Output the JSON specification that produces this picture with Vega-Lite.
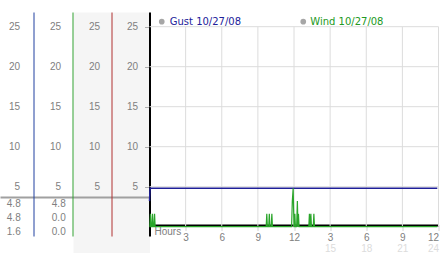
{
  "$schema": "https://vega.github.io/schema/vega-lite/v6.json",
  "width": 289,
  "height": 224,
  "autosize": {"type": "none"},
  "padding": {"left": 149.5, "top": 12, "right": 3.5, "bottom": 17},
  "background": "white",
  "config": {
    "view": {"stroke": null},
    "axis": {"labelFont": "Liberation Sans", "labelFontSize": 10, "labelColor": "#808080", "grid": false, "title": null, "labelFlush": false, "labelOverlap": false}
  },
  "datasets": {
    "vgrid": [{"h": 3}, {"h": 6}, {"h": 9}, {"h": 12}, {"h": 15}, {"h": 18}, {"h": 21}, {"h": 24}],
    "hgrid": [{"v": 5}, {"v": 10}, {"v": 15}, {"v": 20}, {"v": 25}],
    "gust": [{"t": 0, "v": 3.2}, {"t": 0.05, "v": 4.8}, {"t": 12, "v": 4.8}, {"t": 23.9, "v": 4.8}],
    "wind": [
      {"t": 0, "v": 0},
      {"t": 0.03, "v": 0}, {"t": 0.08, "v": 1.6}, {"t": 0.13, "v": 0},
      {"t": 0.2, "v": 0}, {"t": 0.25, "v": 1.6}, {"t": 0.3, "v": 0},
      {"t": 0.37, "v": 0}, {"t": 0.42, "v": 1.6}, {"t": 0.47, "v": 0},
      {"t": 9.69, "v": 0}, {"t": 9.74, "v": 1.6}, {"t": 9.79, "v": 0},
      {"t": 9.9, "v": 0}, {"t": 9.95, "v": 1.6}, {"t": 10.0, "v": 0},
      {"t": 10.11, "v": 0}, {"t": 10.16, "v": 1.6}, {"t": 10.21, "v": 0},
      {"t": 11.8, "v": 0}, {"t": 11.86, "v": 3.2}, {"t": 11.93, "v": 4.8}, {"t": 12.0, "v": 0},
      {"t": 12.02, "v": 0}, {"t": 12.07, "v": 1.6}, {"t": 12.12, "v": 0},
      {"t": 12.22, "v": 0}, {"t": 12.28, "v": 3.2}, {"t": 12.33, "v": 0}, {"t": 12.37, "v": 1.6}, {"t": 12.42, "v": 0},
      {"t": 13.23, "v": 0}, {"t": 13.28, "v": 1.6}, {"t": 13.33, "v": 0},
      {"t": 13.35, "v": 0}, {"t": 13.4, "v": 1.6}, {"t": 13.45, "v": 0},
      {"t": 13.6, "v": 0}, {"t": 13.65, "v": 1.6}, {"t": 13.7, "v": 0},
      {"t": 23.9, "v": 0}
    ],
    "table": [
      {"series": "Gust", "row": "max", "value": 4.8},
      {"series": "Gust", "row": "now", "value": 4.8},
      {"series": "Gust", "row": "avg", "value": 1.6},
      {"series": "Wind", "row": "max", "value": 4.8},
      {"series": "Wind", "row": "now", "value": 0.0},
      {"series": "Wind", "row": "avg", "value": 0.0}
    ]
  },
  "layer": [
    {
      "data": {"name": "vgrid"},
      "mark": {"type": "rule", "color": "#dcdcdc", "strokeWidth": 1},
      "encoding": {
        "x": {"field": "h", "type": "quantitative", "scale": {"domain": [0, 24], "nice": false, "zero": false}, "axis": null},
        "y": {
          "datum": 0, "type": "quantitative",
          "scale": {"domain": [-1.1625, 26.8375], "nice": false, "zero": false},
          "axis": {
            "orient": "left", "offset": 0,
            "values": [-1.15, 3.7, 5, 10, 15, 20, 25],
            "labelExpr": "datum.value < 4.5 ? '' : datum.label",
            "domainColor": "#000000", "domainWidth": 2,
            "ticks": true,
            "tickSize": {"condition": [{"test": "datum.value < 0", "value": 76.5}, {"test": "datum.value < 4.5", "value": 149.5}], "value": 5},
            "tickWidth": {"condition": [{"test": "datum.value < 0", "value": 448}, {"test": "datum.value < 4.5", "value": 2}], "value": 1},
            "tickColor": {"condition": [{"test": "datum.value < 0", "value": "#f5f5f5"}, {"test": "datum.value < 4.5", "value": "#a0a0a0"}], "value": "#b0b0b0"},
            "labelPadding": 7
          }
        },
        "y2": {"datum": 25}
      }
    },
    {
      "data": {"name": "hgrid"},
      "mark": {"type": "rule", "color": "#dcdcdc", "strokeWidth": 1},
      "encoding": {
        "x": {"datum": 0, "type": "quantitative", "scale": {"domain": [0, 24], "nice": false, "zero": false}, "axis": null},
        "x2": {"datum": 24},
        "y": {
          "field": "v", "type": "quantitative",
          "scale": {"domain": [-1.1625, 26.8375], "nice": false, "zero": false},
          "axis": {"orient": "left", "offset": 38, "values": [5, 10, 15, 20, 25], "domainColor": "#b03030", "domainWidth": 1, "ticks": false, "tickSize": 0, "labelPadding": 12}
        }
      }
    },
    {
      "data": {"name": "gust"},
      "mark": {"type": "line", "strokeWidth": 1.5},
      "encoding": {
        "x": {
          "field": "t", "type": "quantitative",
          "scale": {"domain": [0, 24], "nice": false, "zero": false},
          "axis": {
            "orient": "bottom", "offset": -11,
            "values": [3, 6, 9, 12, 15, 18, 21, 24],
            "labelExpr": "'' + (datum.value > 12 ? datum.value - 12 : datum.value)",
            "domainColor": "#000000", "domainWidth": 2,
            "ticks": true, "tickSize": 6, "tickColor": "#a8a8a8", "tickDash": [1, 1],
            "labelPadding": 1, "labelFlush": true,
            "title": "Hours", "titleFont": "Liberation Sans", "titleFontSize": 10, "titleFontWeight": "normal", "titleColor": "#808080",
            "titleAlign": "left", "titleAnchor": "start", "titleBaseline": "middle", "titleX": 4.5, "titleY": 6.5
          }
        },
        "y": {
          "field": "v", "type": "quantitative",
          "scale": {"domain": [-1.1625, 26.8375], "nice": false, "zero": false},
          "axis": {"orient": "left", "offset": 116, "values": [5, 10, 15, 20, 25], "domainColor": "#2040a0", "domainWidth": 1, "ticks": false, "tickSize": 0, "labelPadding": 14}
        },
        "color": {
          "datum": "Gust 10/27/08", "type": "nominal",
          "scale": {"domain": ["Gust 10/27/08"], "range": ["#1f1f99"]},
          "legend": {
            "orient": "none", "legendX": 7.25, "legendY": 4.7, "title": null, "padding": 0,
            "symbolType": "circle", "symbolSize": 32, "symbolStrokeWidth": 0, "symbolFillColor": "#a6a6a6",
            "labelFont": "DejaVu Sans", "labelFontSize": 10, "labelColor": "#22229a", "labelOffset": 3,
            "encoding": {"symbols": {"fill": {"value": "#a6a6a6"}, "stroke": {"value": "#a6a6a6"}, "strokeWidth": {"value": 0}}}
          }
        }
      }
    },
    {
      "data": {"name": "wind"},
      "mark": {"type": "line", "strokeWidth": 1.2},
      "encoding": {
        "x": {
          "field": "t", "type": "quantitative",
          "scale": {"domain": [0, 24], "nice": false, "zero": false},
          "axis": {
            "orient": "bottom", "offset": -11,
            "values": [15, 18, 21, 24],
            "domain": false, "ticks": false, "tickSize": 0,
            "labelPadding": 18.7, "labelColor": "#dcdcdc", "labelFlush": true
          }
        },
        "y": {
          "field": "v", "type": "quantitative",
          "scale": {"domain": [-1.1625, 26.8375], "nice": false, "zero": false},
          "axis": {"orient": "left", "offset": 77, "values": [5, 10, 15, 20, 25], "domainColor": "#30a030", "domainWidth": 1, "ticks": false, "tickSize": 0, "labelPadding": 12}
        },
        "color": {
          "datum": "Wind 10/27/08", "type": "nominal",
          "scale": {"domain": ["Wind 10/27/08"], "range": ["#2aa52a"]},
          "legend": {
            "orient": "none", "legendX": 148.75, "legendY": 4.7, "title": null, "padding": 0,
            "symbolType": "circle", "symbolSize": 32, "symbolStrokeWidth": 0, "symbolFillColor": "#a6a6a6",
            "labelFont": "DejaVu Sans", "labelFontSize": 10, "labelColor": "#229922", "labelOffset": 2,
            "encoding": {"symbols": {"fill": {"value": "#a6a6a6"}, "stroke": {"value": "#a6a6a6"}, "strokeWidth": {"value": 0}}}
          }
        }
      }
    },
    {
      "data": {"name": "table"},
      "mark": {"type": "text", "align": "right", "baseline": "middle", "font": "Liberation Sans", "fontSize": 10, "color": "#808080"},
      "encoding": {
        "x": {"field": "series", "type": "nominal", "scale": {"type": "point", "domain": ["Gust", "Wind"], "range": [-128.8, -83.8], "padding": 0}, "axis": null},
        "y": {"field": "row", "type": "nominal", "scale": {"type": "point", "domain": ["max", "now", "avg"], "range": [192.3, 219.7], "padding": 0}, "axis": null},
        "text": {"field": "value", "type": "quantitative", "format": ".1f"}
      }
    }
  ],
  "resolve": {"scale": {"x": "independent", "y": "independent", "color": "independent"}}
}
